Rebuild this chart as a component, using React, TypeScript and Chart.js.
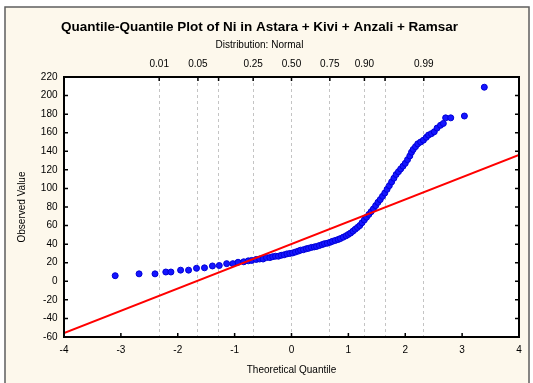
import React, { useEffect, useRef } from 'react';
import { Chart, registerables } from 'chart.js';

Chart.register(...registerables);

// ---- Data ----
const chartTitle = 'Quantile-Quantile Plot of Ni in Astara + Kivi + Anzali + Ramsar';
const chartSubtitle = 'Distribution: Normal';
const xAxisTitle = 'Theoretical Quantile';
const yAxisTitle = 'Observed Value';

const theoreticalQuantiles = [
  -3.10, -2.68, -2.40, -2.21, -2.12, -1.95, -1.81, -1.67, -1.53, -1.39,
  -1.27, -1.14, -1.03, -0.94, -0.84, -0.76, -0.70, -0.62, -0.56, -0.50,
  -0.44, -0.38, -0.33, -0.28, -0.23, -0.18, -0.13, -0.08, -0.03, 0.02,
  0.07, 0.12, 0.16, 0.21, 0.26, 0.30, 0.35, 0.40, 0.44, 0.49,
  0.54, 0.58, 0.63, 0.68, 0.72, 0.77, 0.82, 0.86, 0.91, 0.96,
  1.00, 1.04, 1.08, 1.12, 1.16, 1.20, 1.24, 1.28, 1.32, 1.36,
  1.40, 1.44, 1.48, 1.52, 1.56, 1.60, 1.64, 1.68, 1.72, 1.76,
  1.80, 1.84, 1.88, 1.92, 1.96, 2.00, 2.04, 2.08, 2.11, 2.14,
  2.18, 2.22, 2.27, 2.32, 2.37, 2.41, 2.46, 2.51, 2.56, 2.62,
  2.67, 2.71, 2.80, 3.04, 3.39,
];

const observedValues = [
  6, 8, 8, 10, 10, 12, 12, 14, 14.5, 16.5,
  17, 19, 19, 20.5, 21, 22, 22.5, 23.5, 24, 24,
  25.5, 25.5, 26.5, 27, 27, 28, 28.5, 29.5, 30, 30.5,
  31.5, 32.5, 33.5, 34, 35, 35.5, 36.5, 37, 37.5, 38.5,
  39.5, 40.5, 41, 42, 43, 44, 45, 46, 47.5, 49,
  50.5, 52, 54, 56, 58, 60, 63, 66, 69, 72,
  75, 78, 81.5, 85, 88, 91.5, 95, 99, 103, 107,
  111, 115, 118, 121, 124, 127, 131, 135, 139, 142,
  145, 148, 150, 152, 155, 157.5, 159, 161, 165, 168,
  170, 176, 176, 178, 209,
];

// Reference (fitted normal) line endpoints
const fitLineX = [-4, 4];
const fitLineY = [-55.8, 136.2];

// Axis ranges / ticks
const xMin = -4;
const xMax = 4;
const xStep = 1;
const yMin = -60;
const yMax = 220;
const yStep = 20;

// Top probability axis
const probabilityQuantiles = [-2.326, -1.645, -1.282, -0.674, 0, 0.674, 1.282, 1.645, 2.326];
const probabilityLabels = ['0.01', '0.05', '', '0.25', '0.50', '0.75', '0.90', '', '0.99'];

const FONT = "'Liberation Sans', Arial, Helvetica, sans-serif";

const framePlugin = {
  id: 'framePlugin',
  beforeDraw(chart: any) {
    const { ctx, width, height, chartArea } = chart;
    ctx.save();
    ctx.fillStyle = '#ffffff';
    ctx.fillRect(0, 0, width, height);
    ctx.fillStyle = '#fdf8ec';
    ctx.fillRect(5, 7, 524, height);
    ctx.strokeStyle = '#5e5e5e';
    ctx.lineWidth = 1.5;
    ctx.strokeRect(5, 7, 524, height + 10);
    ctx.fillStyle = '#ffffff';
    ctx.fillRect(chartArea.left, chartArea.top, chartArea.right - chartArea.left, chartArea.bottom - chartArea.top);
    ctx.restore();
  },
  afterDraw(chart: any) {
    const { ctx, chartArea, scales } = chart;
    const { left, right, top, bottom } = chartArea;
    ctx.save();
    ctx.strokeStyle = '#000000';
    ctx.lineWidth = 1.5;
    const len = 4;
    ctx.beginPath();
    for (let v = xMin; v <= xMax; v += xStep) {
      const px = scales.x.getPixelForValue(v);
      ctx.moveTo(px, bottom);
      ctx.lineTo(px, bottom - len);
    }
    probabilityQuantiles.forEach((q) => {
      const px = scales.x2.getPixelForValue(q);
      ctx.moveTo(px, top);
      ctx.lineTo(px, top + len);
    });
    for (let v = yMin; v <= yMax; v += yStep) {
      const py = scales.y.getPixelForValue(v);
      ctx.moveTo(left, py);
      ctx.lineTo(left + len, py);
      ctx.moveTo(right, py);
      ctx.lineTo(right - len, py);
    }
    ctx.stroke();
    ctx.lineWidth = 2;
    ctx.strokeRect(left, top, right - left, bottom - top);
    ctx.restore();
  },
};

export default function App() {
  const canvasRef = useRef<HTMLCanvasElement | null>(null);

  useEffect(() => {
    document.body.style.margin = '0';
    const canvas = canvasRef.current;
    if (!canvas) return;

    const points = theoreticalQuantiles.map((x, i) => ({ x, y: observedValues[i] }));
    const linePts = fitLineX.map((x, i) => ({ x, y: fitLineY[i] }));

    const chart = new Chart(canvas, {
      type: 'scatter',
      data: {
        datasets: [
          {
            type: 'line',
            label: 'Fit',
            data: linePts,
            borderColor: '#ff0000',
            borderWidth: 2,
            pointRadius: 0,
            fill: false,
            order: 0,
            xAxisID: 'x',
            yAxisID: 'y',
          } as any,
          {
            label: 'Ni',
            data: points,
            backgroundColor: '#1515ff',
            borderColor: '#0000d8',
            borderWidth: 1,
            pointRadius: 3,
            order: 1,
            xAxisID: 'x',
            yAxisID: 'y',
          },
        ],
      },
      options: {
        responsive: false,
        animation: false,
        devicePixelRatio: 1,
        layout: { padding: { top: 0, left: 0, right: 14, bottom: 0 } },
        plugins: {
          legend: { display: false },
          tooltip: { enabled: false },
          title: {
            display: true,
            text: chartTitle,
            color: '#000',
            font: { family: FONT, size: 13.5, weight: 'bold', lineHeight: 1.2 },
            padding: { top: 18.9, bottom: 0 },
          },
          subtitle: {
            display: true,
            text: chartSubtitle,
            color: '#000',
            font: { family: FONT, size: 10, lineHeight: 1.2 },
            padding: { top: 3.9, bottom: 0 },
          },
        },
        scales: {
          x: {
            type: 'linear',
            position: 'bottom',
            min: xMin,
            max: xMax,
            grid: { display: false, drawTicks: false },
            border: { display: false },
            ticks: {
              stepSize: xStep,
              color: '#000',
              padding: 7,
              font: { family: FONT, size: 10 },
              maxRotation: 0,
            },
            title: {
              display: true,
              text: xAxisTitle,
              color: '#000',
              font: { family: FONT, size: 10, lineHeight: 1.2 },
              padding: { top: 0, bottom: 7 },
            },
            afterFit: (s: any) => {
              s.height = 46;
            },
          },
          x2: {
            type: 'linear',
            position: 'top',
            min: xMin,
            max: xMax,
            afterBuildTicks: (s: any) => {
              s.ticks = probabilityQuantiles.map((v) => ({ value: v }));
            },
            grid: { display: true, drawTicks: false, color: '#c4c4c4', lineWidth: 1 },
            border: { display: false, dash: [3, 3] },
            ticks: {
              autoSkip: false,
              color: '#000',
              padding: 6.3,
              maxRotation: 0,
              font: { family: FONT, size: 10 },
              callback: (_v: any, i: number) => probabilityLabels[i],
            },
            afterFit: (s: any) => {
              s.height = 26;
            },
          },
          y: {
            type: 'linear',
            position: 'left',
            min: yMin,
            max: yMax,
            grid: { display: false, drawTicks: false },
            border: { display: false },
            ticks: {
              stepSize: yStep,
              color: '#000',
              padding: 6.5,
              font: { family: FONT, size: 10 },
            },
            title: {
              display: true,
              text: yAxisTitle,
              color: '#000',
              font: { family: FONT, size: 10, lineHeight: 1.2 },
              padding: { top: 16, bottom: 0 },
            },
            afterFit: (s: any) => {
              s.width = 64;
            },
          },
        },
      } as any,
      plugins: [framePlugin],
    });

    return () => {
      chart.destroy();
    };
  }, []);

  return (
    <div style={{ width: 533, height: 383 }}>
      <canvas ref={canvasRef} width={533} height={383} style={{ display: 'block' }} />
    </div>
  );
}
